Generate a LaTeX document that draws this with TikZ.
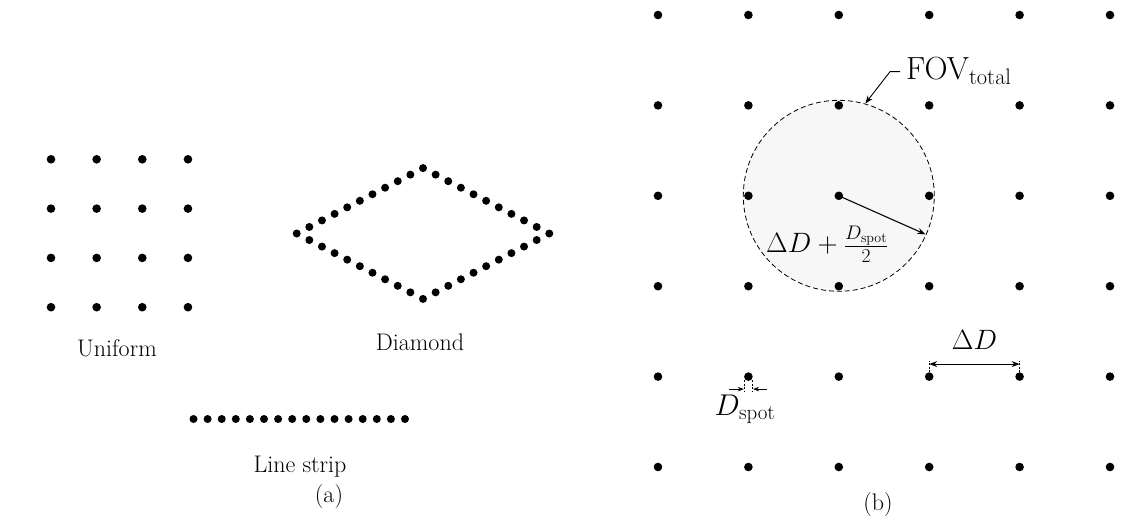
\RequirePackage{fix-cm}
\documentclass[tikz,border=0pt]{standalone}
\usetikzlibrary{arrows.meta,calc}
\definecolor{fovfill}{RGB}{247,247,247}
\tikzset{
  dota/.style={circle,fill=black,inner sep=0pt,minimum size=8.6pt},
  dotb/.style={circle,fill=black,inner sep=0pt,minimum size=8.6pt},
  dotc/.style={circle,fill=black,inner sep=0pt,minimum size=8pt},
  lbl/.style={inner sep=0pt,font=\fontsize{24}{28}\selectfont},
  subcap/.style={inner sep=0pt,font=\fontsize{24}{28}\selectfont},
  mlbl/.style={inner sep=0pt,font=\fontsize{28}{32}\selectfont},
  bigtip/.style={line width=1.1pt,-{Stealth[length=8pt,width=6pt]}},
  dimline/.style={line width=1.1pt,{Stealth[length=8pt,width=6pt]}-{Stealth[length=8pt,width=6pt]}},
  smalltip/.style={line width=0.9pt,-{Stealth[length=6pt,width=4.5pt]}},
  ext/.style={line width=0.6pt,dash pattern=on 2pt off 1.5pt},
  fovrim/.style={line width=0.8pt,dash pattern=on 5pt off 3pt},
}
\begin{document}
\begin{tikzpicture}[x=1pt,y=-1pt]
\useasboundingbox (0,0) rectangle (1143,516);

% ---------- (a) scan patterns ----------
% uniform 4x4 grid
\foreach \i in {0,...,3} \foreach \j in {0,...,3}
  \node[dota] (u-\i-\j) at ({51+45.65*\i},{159.3+49.3*\j}) {};
\node[lbl,anchor=base] (uni) at (117,356.5) {Uniform};

% diamond: 40 spots, 10 per edge
\coordinate (dc) at (423,233.5);
\foreach \k in {0,...,9} {
  \node[dotc] (dm-lt-\k) at ($(dc)+({-126.3+12.63*\k},{-6.54*\k})$) {};
  \node[dotc] (dm-tr-\k) at ($(dc)+({12.63*\k},{-65.4+6.54*\k})$) {};
  \node[dotc] (dm-rb-\k) at ($(dc)+({126.3-12.63*\k},{6.54*\k})$) {};
  \node[dotc] (dm-bl-\k) at ($(dc)+({-12.63*\k},{65.4-6.54*\k})$) {};
}
\node[lbl,anchor=base] (dia) at (420,350) {Diamond};

% line strip
\foreach \k in {0,...,15}
  \node[dotc] (ls-\k) at ({193.5+14.1*\k},419) {};
\node[lbl,anchor=base] (lsl) at (300,472) {Line strip};

\node[subcap,anchor=base] (capa) at (329,502) {(a)};

% ---------- (b) field of view ----------
\coordinate (fc) at (838.8,195.8);
\fill[fovfill] (fc) circle[radius=95.5pt];
\draw[fovrim] (fc) circle[radius=95.5pt];

\foreach \i in {0,...,5} \foreach \j in {0,...,5}
  \node[dotb] (b-\i-\j) at ({658+90.4*\i},{15+90.4*\j}) {};

% radius of the field of view
\coordinate (rim) at ($(b-2-2.center)+(86.6,38.5)$);
\draw[bigtip] (b-2-2.center) -- (rim);
\node[mlbl,anchor=base west] (rl) at (766,252.7) {$\Delta D+\frac{D_{\mathrm{spot}}}{2}$};

% FOV label with leader
\node[anchor=base west,inner sep=0pt,font=\fontsize{32}{36}\selectfont] (fov) at (906,79.3) {FOV$_{\mathrm{total}}$};
\coordinate (fovpt) at ($(fc)+(26.5,-92.3)$);
\coordinate (lead1) at ($(fov.base west)+(-6,-7.6)$);
\coordinate (lead2) at ($(lead1)+(-10,0)$);
\draw[bigtip,line width=0.9pt] (lead1) -- (lead2) -- (fovpt);

% spot pitch
\coordinate (p1a) at ($(b-3-4.center)+(0,-4.5)$);
\coordinate (p1b) at ($(b-3-4.center)+(0,-16)$);
\coordinate (p2a) at ($(b-4-4.center)+(0,-4.5)$);
\coordinate (p2b) at ($(b-4-4.center)+(0,-16)$);
\draw[ext] (p1a) -- (p1b);
\draw[ext] (p2a) -- (p2b);
\coordinate (p1m) at ($(b-3-4.center)+(0,-12.5)$);
\coordinate (p2m) at ($(b-4-4.center)+(0,-12.5)$);
\draw[dimline] (p1m) -- (p2m);
\node[mlbl,anchor=base] (dDl) at (974.5,349) {$\Delta D$};

% spot diameter
\coordinate (s1a) at ($(b-1-4.center)+(-4.3,3.5)$);
\coordinate (s1b) at ($(b-1-4.center)+(-4.3,15.5)$);
\coordinate (s2a) at ($(b-1-4.center)+(4.3,3.5)$);
\coordinate (s2b) at ($(b-1-4.center)+(4.3,15.5)$);
\draw[ext] (s1a) -- (s1b);
\draw[ext] (s2a) -- (s2b);
\coordinate (s1o) at ($(b-1-4.center)+(-19,12.5)$);
\coordinate (s1i) at ($(b-1-4.center)+(-4.6,12.5)$);
\coordinate (s2o) at ($(b-1-4.center)+(19,12.5)$);
\coordinate (s2i) at ($(b-1-4.center)+(4.6,12.5)$);
\draw[smalltip] (s1o) -- (s1i);
\draw[smalltip] (s2o) -- (s2i);
\node[inner sep=0pt,font=\fontsize{30}{34}\selectfont,anchor=base] (dsl) at (745,415) {$D_{\mathrm{spot}}$};

\node[subcap,anchor=base] (capb) at (878,510) {(b)};
\end{tikzpicture}
\end{document}
